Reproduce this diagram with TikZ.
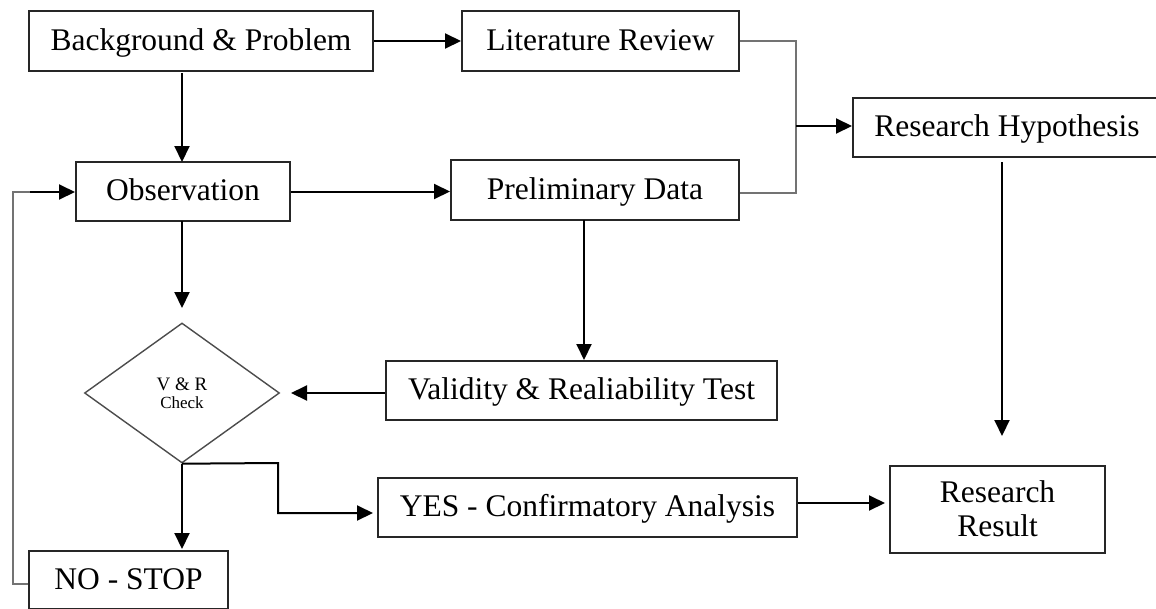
\documentclass[tikz,border=0pt]{standalone}
\usepackage{fontspec}
\setmainfont{Liberation Serif}
\usetikzlibrary{arrows.meta,shapes.geometric}
\begin{document}
\begin{tikzpicture}[x=1pt,y=-1pt,
  box/.style={draw=black!85,line width=2pt,rectangle,inner sep=0pt,font=\fontsize{31.5}{35}\selectfont,align=center},
  one/.style={text height=23pt,text depth=5pt},
  conn/.style={draw=black,line width=2pt},
  grayconn/.style={draw=black!55,line width=2.6pt},
  tip/.style={-{Triangle[length=16pt,width=15pt]}},
]
\clip (0,0) rectangle (1156,608);
\fill[white] (0,0) rectangle (1156,608);

% process boxes
\node[box,one,minimum width=344pt,minimum height=60pt] (bp) at (201,41) {Background \& Problem};
\node[box,one,minimum width=277pt,minimum height=60pt] (lr) at (600.5,41) {Literature Review};
\node[box,one,minimum width=214pt,minimum height=59pt] (obs) at (183,191.5) {Observation};
\node[box,one,minimum width=288pt,minimum height=60pt] (pd) at (595,190) {Preliminary Data};
\node[box,one,minimum width=308pt,minimum height=59pt] (rh) at (1007,127.5) {Research Hypothesis};
\node[box,one,minimum width=391pt,minimum height=59pt] (vt) at (581.5,390) {Validity \& Realiability Test};
\node[box,one,minimum width=419pt,minimum height=59pt] (yes) at (587.5,507.5) {YES - Confirmatory Analysis};
\node[box,minimum width=215pt,minimum height=87pt,font=\fontsize{31.5}{34}\selectfont] (rr) at (997.5,509) {Research\\Result};
\node[box,one,minimum width=199pt,minimum height=58pt] (no) at (128.5,580) {NO - STOP};

% decision
\node[draw=black!70,line width=1.4pt,shape=diamond,minimum width=195pt,minimum height=140pt,inner sep=0pt,
  font=\fontsize{19}{19}\selectfont,align=center] (vr) at (182,393) {V \& R\\[-1pt]{\fontsize{17}{17}\selectfont Check}};

% junction points of the elbow connectors
\coordinate (jx) at (796,126);
\coordinate (ybend1) at (278,463);
\coordinate (ybend2) at (278,513);
\coordinate (loopb) at (13,584);
\coordinate (loopt) at (13,192);

% connectors
\draw[conn,tip] (bp.east) -- (lr.west);
\draw[conn,tip] (182,73) -- (182,162);
\draw[conn,tip] (obs.east) -- (pd.west |- obs.east);
\draw[conn,tip] (182,221) -- (182,308);
\draw[conn,tip] (584,220) -- (584,360);
\draw[conn,tip] (vt.west |- 0,393) -- (291,393);
\draw[conn,tip] (vr.south) -- (182,549);
\draw[conn,tip] (vr.south) -- (ybend1) -- (ybend2) -- (373,513);
\draw[conn,tip] (yes.east |- 0,503) -- (885,503);
\draw[conn,tip] (1002,162) -- (1002,436);
\draw[grayconn] (lr.east) -- (796,41) -- (796,193) -- (pd.east |- 0,193);
\draw[conn,tip] (jx) -- (rh.west |- jx);
\draw[grayconn] (no.west |- loopb) -- (loopb) -- (loopt) -- (30,192);
\draw[conn,tip] (30,192) -- (obs.west |- loopt);
\end{tikzpicture}
\end{document}
